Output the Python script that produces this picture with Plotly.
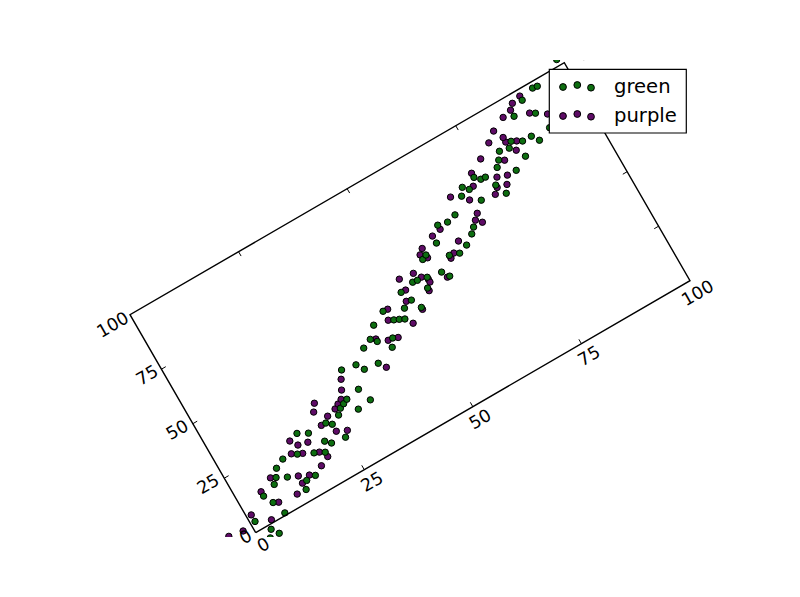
import plotly.graph_objects as go

# Data, in the chart's own (x, y) units
green_x = [4,3,2,1,7,6,5,13,8,14,9,11,16,10,12,15,18,20,21,22,17,19,25,23,24,26,27,30,28,29,33,32,31,35,34,38,37,
           42,39,40,43,41,45,46,47,44,48,51,50,49,54,52,53,55,58,59,56,57,61,63,65,60,67,68,62,64,66,72,69,77,71,
           70,76,74,73,75,81,78,79,84,80,82,83,85,88,87,91,86,90,89,92,93,99]
green_y = [-4.9,-1.9,-4.7,4.0,1.0,6.9,11.0,4.8,12.9,7.8,14.9,12.8,7.8,18.0,19.9,18.7,15.8,13.8,17.7,15.7,25.9,23.7,
           14.9,23.7,22.0,23.9,25.9,22.0,26.8,27.7,22.8,28.8,38.8,34.5,37.7,33.8,41.9,36.5,43.6,41.5,39.6,47.8,45.6,
           44.7,43.7,50.7,47.5,44.4,48.9,53.6,49.8,54.8,54.5,53.6,52.5,49.5,60.6,61.5,56.7,55.4,56.8,63.5,59.6,61.6,
           69.4,68.5,69.5,69.3,74.6,66.7,75.4,77.5,71.6,76.6,78.6,76.4,72.6,77.4,79.6,75.6,82.5,81.6,83.6,81.4,78.3,
           81.3,80.6,91.6,88.4,95.5,97.6,97.3,102.6]

purple_x = [-5,-2,4,1,7,11,5,13,8,13,15,18,20,14,16,19,16,15,18,24,26,22,24,22,26,27,23,28,29,30,39,40,42,44,48,44,45,
            51,49,50,54,55,55,50,54,58.5,53,61,57,56,62,57,64,60,62,70,69,70,70,67,75,76,72,78,79,77,73,80,76,83,79,
            82,84,82,81,92,89,84,86,87,89,104]
purple_y = [4.1,3.1,1.3,7.0,5.9,5.0,13.0,7.7,15.9,11.0,9.1,9.9,11.8,20.0,17.9,15.0,21.7,24.7,20.7,18.8,16.9,23.8,25.7,
            29.9,26.7,27.8,32.8,28.8,31.9,35.7,30.8,42.6,39.7,38.7,40.6,46.6,50.5,43.5,49.5,53.5,48.6,52.7,51.4,58.5,
            54.8,49.6,57.7,55.4,60.2,62.7,56.6,64.5,59.8,66.7,67.5,61.5,63.6,65.6,71.7,76.5,68.5,70.5,75.7,69.6,72.7,
            74.1,80.5,78.4,83.6,79.5,87.5,84.4,82.6,86.5,90.6,85.7,89.6,93.4,94.4,96.4,97.4,98.2]

tick_values = [0, 25, 50, 75, 100]
tick_labels = ["0", "25", "50", "75", "100"]
legend_names = ["green", "purple"]

GREEN = "#0d6e10"
PURPLE = "#5e0c66"
FONT = "DejaVu Sans"

# Rotated floating axes: pixels per data unit along each axis on the 800x597 page
ORIGIN = (255.7, 532.7)
XVEC = (4.343, -2.52)
YVEC = (-1.257, -2.18)
LEFT, RIGHT, TOP, BOTTOM = 100, 720, 60, 537
PAGE_INSET = 8  # the page body's own margin around the figure


def project(x, y):
    return ORIGIN[0] + x * XVEC[0] + y * YVEC[0], ORIGIN[1] + x * XVEC[1] + y * YVEC[1]


def project_all(xs, ys):
    pts = [project(a, b) for a, b in zip(xs, ys)]
    return [p[0] for p in pts], [p[1] for p in pts]


def to_paper(px, py):
    return (px - LEFT) / (RIGHT - LEFT), (BOTTOM - py) / (BOTTOM - TOP)


fig = go.Figure()

px, py = project_all(purple_x, purple_y)
gx, gy = project_all(green_x, green_y)
for name, xs, ys, col in (("purple", px, py, PURPLE), ("green", gx, gy, GREEN)):
    fig.add_trace(go.Scatter(x=xs, y=ys, mode="markers", name=name, showlegend=False,
                             marker=dict(color=col, size=6.4, line=dict(color="black", width=1))))

# Frame
fx, fy = project_all([0, 100, 100, 0, 0], [0, 0, 100, 100, 0])
fig.add_trace(go.Scatter(x=fx, y=fy, mode="lines", showlegend=False, hoverinfo="skip",
                         line=dict(color="black", width=1.4)))

# Inward tick marks on all four edges
TX = 1.0
TY = 2.0
tick_x, tick_y = [], []
for t in tick_values[1:-1]:
    for a, b in (((t, 0), (t, TY)), ((t, 100), (t, 100 - TY)), ((0, t), (TX, t)), ((100, t), (100 - TX, t))):
        p, q = project(*a), project(*b)
        tick_x += [p[0], q[0], None]
        tick_y += [p[1], q[1], None]
fig.add_trace(go.Scatter(x=tick_x, y=tick_y, mode="lines", showlegend=False, hoverinfo="skip",
                         line=dict(color="black", width=1)))

annotations = []
left_offsets = [(-10.7, 4), (-16, 6), (-16, 6), (-14, 6), (-18, 10)]
for t, lab, lo in zip(tick_values, tick_labels, left_offsets):
    bx, by = project(t, 0)
    lx, ly = project(0, t)
    for cx, cy in ((bx + 7.5, by + 12.5), (lx + lo[0], ly + lo[1])):
        xp, yp = to_paper(cx, cy)
        annotations.append(dict(x=xp, y=yp, xref="paper", yref="paper", text=lab, showarrow=False,
                                textangle=-30, xanchor="center", yanchor="middle",
                                font=dict(family=FONT, size=17.5, color="black")))

# Legend
shapes = [dict(type="rect", xref="x", yref="y", x0=549.3, x1=686.3, y0=69.3, y1=133, layer="above",
               fillcolor="white", line=dict(color="black", width=1.2))]
for row_y, col in ((87, GREEN), (116, PURPLE)):
    for mx, off in ((563, 0), (577.3, -2), (591, 0.7)):
        shapes.append(dict(type="circle", xref="x", yref="y", layer="above",
                           x0=mx - 3.4, x1=mx + 3.4, y0=row_y + off - 3.4, y1=row_y + off + 3.4,
                           fillcolor=col, line=dict(color="black", width=1)))
for name, ty in zip(legend_names, (86.5, 115)):
    annotations.append(dict(x=614, y=ty, xref="x", yref="y", text=name, showarrow=False,
                            xanchor="left", yanchor="middle", xshift=-2,
                            font=dict(family=FONT, size=19.6, color="black")))

fig.update_layout(
    width=800 - PAGE_INSET, height=597 - PAGE_INSET,
    margin=dict(l=LEFT - PAGE_INSET, r=800 - RIGHT, t=TOP - PAGE_INSET, b=597 - BOTTOM, pad=0),
    paper_bgcolor="white", plot_bgcolor="white",
    xaxis=dict(range=[LEFT, RIGHT], visible=False, fixedrange=True),
    yaxis=dict(range=[BOTTOM, TOP], visible=False, fixedrange=True),
    showlegend=False, shapes=shapes, annotations=annotations,
)
fig.write_html("out.html")
